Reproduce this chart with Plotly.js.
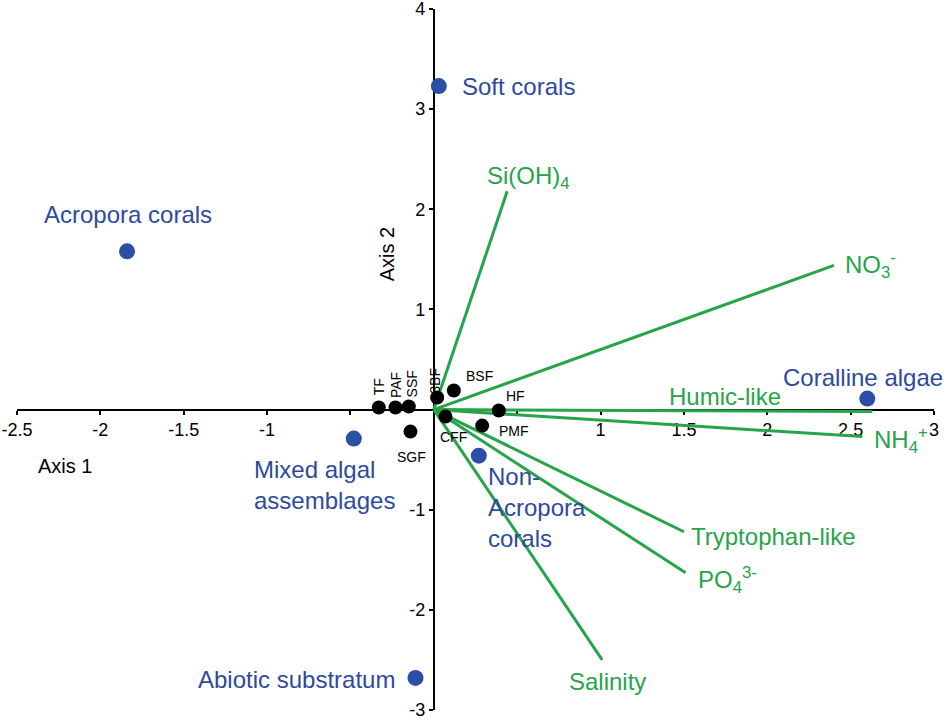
<!DOCTYPE html>
<html>
<head>
<meta charset="utf-8">
<script src="https://cdn.plot.ly/plotly-3.0.1.min.js"></script>
<style>html,body{margin:0;padding:0;background:#fff;}#chart{width:950px;height:723px;}</style>
</head>
<body>
<div id="chart"></div>
<script>
// ---- data ----
const siteNames = ['Soft corals', 'Acropora corals', 'Coralline algae', 'Mixed algal<br>assemblages', 'Non-<br>Acropora<br>corals', 'Abiotic substratum'];
const siteX = [0.03, -1.84, 2.60, -0.48, 0.27, -0.11];
const siteY = [3.23, 1.58, 0.11, -0.29, -0.46, -2.68];

const fishNames = ['TF', 'PAF', 'SSF', '3BF', 'BSF', 'HF', 'CFF', 'PMF', 'SGF'];
const fishX = [-0.33, -0.23, -0.15, 0.02, 0.12, 0.39, 0.07, 0.29, -0.14];
const fishY = [0.02, 0.02, 0.03, 0.12, 0.19, -0.01, -0.07, -0.16, -0.22];

const vecNames = ['Si(OH)<sub>4</sub>', 'NO<sub>3</sub><sup>-</sup>', 'Humic-like', 'NH<sub>4</sub><sup>+</sup>', 'Tryptophan-like', 'PO<sub>4</sub><sup>3-</sup>', 'Salinity'];
const vecX = [0.44, 2.40, 2.63, 2.57, 1.50, 1.51, 1.01];
const vecY = [2.18, 1.44, -0.02, -0.27, -1.22, -1.63, -2.50];

const xTickVals = [-2.5, -2, -1.5, -1, 1, 1.5, 2, 2.5, 3];
const xTickText = ['-2.5', '-2', '-1.5', '-1', '1', '1.5', '2', '2.5', '3'];
const xMinorVals = [-0.5, 0.5];
const yTickVals = [-3, -2, -1, 1, 2, 3, 4];
const yTickText = ['-3', '-2', '-1', '1', '2', '3', '4'];

// ---- label placement (pixel offsets from each mark) ----
const siteLabelStyle = [
  {xanchor: 'left', xshift: 21, yshift: 0},
  {xanchor: 'left', xshift: -85, yshift: 37},
  {xanchor: 'right', xshift: 78, yshift: 21},
  {xanchor: 'left', xshift: -102, yshift: -46},
  {xanchor: 'left', xshift: 7, yshift: -52},
  {xanchor: 'right', xshift: -18, yshift: -2}
];
const fishLabelStyle = [
  {xanchor: 'center', xshift: 0, yshift: 21, angle: -90},
  {xanchor: 'center', xshift: 0, yshift: 23, angle: -90},
  {xanchor: 'center', xshift: 3, yshift: 23, angle: -90},
  {xanchor: 'center', xshift: -3, yshift: 17, angle: -90},
  {xanchor: 'left', xshift: 10, yshift: 15, angle: 0},
  {xanchor: 'left', xshift: 5, yshift: 15, angle: 0},
  {xanchor: 'left', xshift: -7, yshift: -20, angle: 0},
  {xanchor: 'left', xshift: 15, yshift: -5, angle: 0},
  {xanchor: 'center', xshift: 1, yshift: -25, angle: 0}
];
const vecLabelStyle = [
  {xanchor: 'left', xshift: -22, yshift: 14},
  {xanchor: 'left', xshift: 9, yshift: 0},
  {xanchor: 'right', xshift: -89, yshift: 15},
  {xanchor: 'left', xshift: 10, yshift: -3},
  {xanchor: 'left', xshift: 5, yshift: -5},
  {xanchor: 'left', xshift: 10, yshift: -7},
  {xanchor: 'center', xshift: 5, yshift: -22}
];

const FONT = 'Arial, "Liberation Sans", sans-serif';
const GREEN = '#27a449';
const BLUE_DOT = '#2b4ea7';
const BLUE_TXT = '#2e4a9c';

// vectors from origin
const lx = [], ly = [];
vecX.forEach((v, i) => { lx.push(0, v, null); ly.push(0, vecY[i], null); });

const traces = [
  {x: lx, y: ly, mode: 'lines', type: 'scatter', line: {color: GREEN, width: 3}, hoverinfo: 'skip', cliponaxis: false},
  {x: siteX, y: siteY, mode: 'markers', type: 'scatter', marker: {color: BLUE_DOT, size: 16}, cliponaxis: false},
  {x: fishX, y: fishY, mode: 'markers', type: 'scatter', marker: {color: '#000', size: 14}, cliponaxis: false}
];

const annotations = [];
siteNames.forEach((n, i) => {
  const s = siteLabelStyle[i];
  annotations.push({x: siteX[i], y: siteY[i], xref: 'x', yref: 'y', text: n, showarrow: false,
    xanchor: s.xanchor, yanchor: 'middle', xshift: s.xshift, yshift: s.yshift, align: 'left',
    font: {family: FONT, size: 24, color: BLUE_TXT}});
});
fishNames.forEach((n, i) => {
  const s = fishLabelStyle[i];
  annotations.push({x: fishX[i], y: fishY[i], xref: 'x', yref: 'y', text: n, showarrow: false,
    xanchor: s.xanchor, yanchor: 'middle', xshift: s.xshift, yshift: s.yshift, textangle: s.angle,
    font: {family: FONT, size: 14, color: '#000'}});
});
vecNames.forEach((n, i) => {
  const s = vecLabelStyle[i];
  annotations.push({x: vecX[i], y: vecY[i], xref: 'x', yref: 'y', text: n, showarrow: false,
    xanchor: s.xanchor, yanchor: 'middle', xshift: s.xshift, yshift: s.yshift,
    font: {family: FONT, size: 24, color: GREEN}});
});
annotations.push({xref: 'paper', yref: 'paper', x: 0.0207, y: 0.348, xanchor: 'left', yanchor: 'middle',
  text: 'Axis 1', showarrow: false, font: {family: FONT, size: 20, color: '#000'}});
annotations.push({xref: 'paper', yref: 'paper', x: 0.4035, y: 0.650, xanchor: 'center', yanchor: 'middle',
  text: 'Axis 2', showarrow: false, textangle: -90, font: {family: FONT, size: 20, color: '#000'}});

const tickStyle = {ticks: 'outside', ticklen: 4, tickwidth: 2, tickcolor: '#000'};

const layout = {
  width: 950, height: 723,
  margin: {l: 17, r: 16, t: 9, b: 13},
  paper_bgcolor: '#fff', plot_bgcolor: '#fff',
  showlegend: false,
  font: {family: FONT, color: '#000'},
  xaxis: Object.assign({range: [-2.5, 3], anchor: 'free', position: 3 / 7, showgrid: false, zeroline: false,
    showline: true, linecolor: '#000', linewidth: 2,
    tickmode: 'array', tickvals: xTickVals, ticktext: xTickText, ticklabeloverflow: 'allow',
    minor: {tickmode: 'array', tickvals: xMinorVals, ticks: 'outside', ticklen: 4, tickwidth: 2, tickcolor: '#000', showgrid: false},
    tickfont: {family: FONT, size: 18, color: '#000'}, layer: 'below traces'}, tickStyle),
  yaxis: Object.assign({range: [-3, 4], anchor: 'free', position: 2.5 / 5.5, showgrid: false, zeroline: false,
    showline: true, linecolor: '#000', linewidth: 2,
    tickmode: 'array', tickvals: yTickVals, ticktext: yTickText, ticklabeloverflow: 'allow',
    tickfont: {family: FONT, size: 18, color: '#000'}, layer: 'below traces'}, tickStyle),
  annotations: annotations
};

Plotly.newPlot('chart', traces, layout, {displayModeBar: false, staticPlot: true});
</script>
</body>
</html>
